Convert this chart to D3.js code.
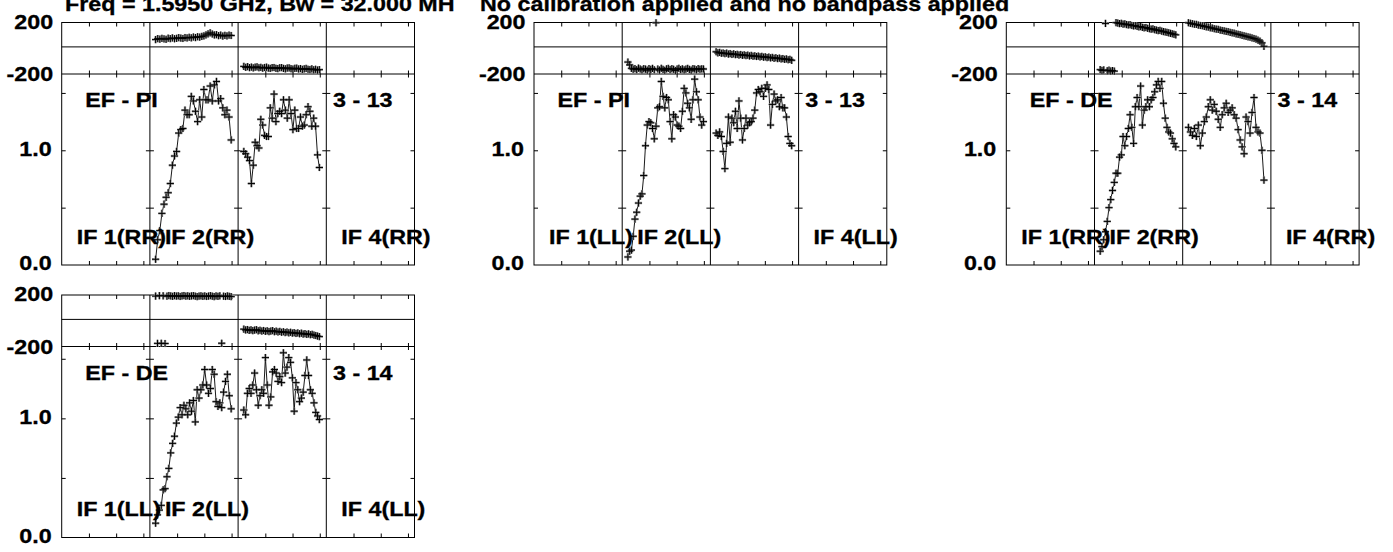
<!DOCTYPE html>
<html><head><meta charset="utf-8">
<script src="https://cdn.jsdelivr.net/npm/d3@7"></script>
<style>
body{margin:0;background:#fff}
text{font-family:"Liberation Sans",Arial,sans-serif;font-weight:bold;font-size:19.5px;fill:#000;stroke:#000;stroke-width:0.3}
</style>
</head><body>
<svg id="c" width="1393" height="552"></svg>
<script>
// ---------- titles / labels ----------
const titleLeft = "Freq = 1.5950 GHz, Bw = 32.000 MH";
const titleRight = "No calibration applied and no bandpass applied";
const baselines = ["EF - PI", "EF - PI", "EF - DE", "EF - DE"];
const sources = ["3 - 13", "3 - 13", "3 - 14", "3 - 14"];
const pols = ["RR", "LL", "RR", "LL"];
const ifNames = ["IF 1", "IF 2", null, "IF 4"];
const phaseTickLabels = ["200", "-200"];
const ampTickLabels = ["1.0", "0.0"];
const ampTicks = [0.5, 1.0, 1.5];
const freqTicks = [10, 20, 30];
const ampMax = [1.665, 1.603];

// ---------- amplitudes (IF 2 and IF 3) ----------
const ampPI_RR_IF2 = [0.05,0.22,0.30,0.45,0.53,0.59,0.63,0.71,0.87,0.95,0.99,1.15,1.18,1.19,1.35,1.31,1.31,1.47,1.43,1.34,1.25,1.44,1.29,1.53,1.44,1.44,1.56,1.43,1.57,1.60,1.43,1.45,1.37,1.31,1.35,1.29,1.09];
const ampPI_RR_IF3 = [0.99,0.97,0.94,0.91,0.71,0.87,1.07,1.04,1.02,1.27,1.22,1.13,1.12,1.12,1.37,1.28,1.49,1.25,1.32,1.34,1.32,1.44,1.35,1.28,1.44,1.32,1.18,1.35,1.19,1.19,1.29,1.21,1.22,1.31,1.38,1.34,1.21,1.28,1.21,0.96,0.85];
const ampPI_LL_IF2 = [0.07,0.12,0.13,0.25,0.40,0.46,0.54,0.60,0.62,0.78,1.04,1.22,1.25,1.24,1.19,1.10,1.21,1.37,1.38,1.60,1.47,1.37,1.46,1.44,1.25,1.10,1.31,1.29,1.22,1.21,1.19,1.34,1.54,1.50,1.41,1.37,1.27,1.44,1.62,1.51,1.44,1.29,1.22,1.25];
const ampPI_LL_IF3 = [1.15,1.13,1.16,1.12,0.99,0.84,1.06,1.29,1.07,1.28,1.24,1.34,1.19,1.43,1.28,1.09,1.19,1.28,1.22,1.24,1.25,1.28,1.35,1.50,1.53,1.51,1.54,1.47,1.54,1.57,1.53,1.22,1.40,1.49,1.43,1.44,1.38,1.46,1.37,1.37,1.29,1.12,1.06,1.04];
const ampDE_RR_IF2 = [0.12,0.16,0.22,0.29,0.38,0.50,0.57,0.65,0.72,0.80,0.80,0.94,0.96,1.12,1.04,1.12,1.19,1.31,1.20,1.06,1.38,1.46,1.38,1.56,1.22,1.35,1.38,1.44,1.38,1.44,1.46,1.51,1.57,1.60,1.54,1.60,1.41,1.28,1.20,1.16,1.15,1.10,1.06,1.03];
const ampDE_RR_IF3 = [1.20,1.16,1.13,1.19,1.12,1.22,1.04,1.15,1.25,1.29,1.38,1.44,1.35,1.40,1.34,1.27,1.20,1.31,1.37,1.41,1.33,1.35,1.37,1.31,1.28,1.18,1.09,1.03,0.97,1.29,1.25,1.15,1.33,1.46,1.20,1.16,1.15,1.00,0.74];
const ampDE_LL_IF2 = [0.12,0.19,0.23,0.27,0.40,0.41,0.51,0.58,0.71,0.79,0.85,0.96,1.01,1.09,1.03,1.11,1.08,1.03,1.13,1.06,1.15,0.97,1.24,1.17,1.24,1.28,1.41,1.28,1.21,1.25,1.41,1.37,1.14,1.10,1.13,1.09,1.22,1.31,1.37,1.19,1.08];
const ampDE_LL_IF3 = [1.07,1.03,1.21,1.25,1.21,1.28,1.38,1.24,1.11,1.19,1.24,1.21,1.51,1.28,1.11,1.18,1.39,1.41,1.38,1.31,1.35,1.30,1.55,1.38,1.43,1.51,1.47,1.34,1.06,1.30,1.24,1.14,1.17,1.22,1.36,1.49,1.36,1.24,1.21,1.13,1.05,1.02,0.99];

// ---------- phases (degrees) ----------
const phPI_RR_IF2 = [54,61,57,63,59,56,64,61,66,60,63,68,65,62,69,66,71,67,73,69,75,72,77,81,88,96,104,95,88,90,83,87,80,85,81,87,84];
const phPI_RR_IF3 = [-144,-151,-146,-153,-149,-155,-150,-147,-154,-151,-157,-152,-150,-156,-159,-153,-152,-158,-160,-154,-153,-159,-162,-156,-155,-161,-164,-158,-157,-163,-160,-166,-162,-159,-165,-167,-162,-169,-165,-171,-168];
const phPI_LL_IF2 = [-112,-133,-158,-165,-160,-168,-157,-163,-170,-161,-164,-172,-160,-166,-159,-169,178,-163,-171,-158,-166,-173,-162,-159,-168,-161,-165,-174,-163,-158,-167,-162,-170,-164,-159,-166,-172,-161,-163,-169,-160,-165,-162,-163];
const phPI_LL_IF3 = [-36,-44,-41,-47,-45,-50,-46,-53,-49,-56,-51,-57,-55,-60,-56,-62,-59,-64,-61,-67,-63,-69,-66,-71,-68,-74,-70,-76,-73,-79,-75,-81,-78,-84,-80,-86,-83,-89,-86,-92,-89,-95,-92,-99];
const phDE_RR_IF2 = [-168,-174,-170,173,-176,-172,-178,-175,-179,179,176,172,174,168,170,165,162,164,158,155,157,151,148,150,144,141,143,137,134,131,133,127,124,120,122,116,113,110,107,104,100,97,93,89];
const phDE_RR_IF3 = [178,174,171,167,166,161,158,156,151,148,146,141,139,134,131,129,124,121,118,114,112,107,104,101,96,93,90,85,82,78,74,71,66,62,57,50,42,30,4];
const phDE_LL_IF2 = [172,-177,175,-176,174,-178,171,176,173,170,175,172,174,169,173,176,171,174,170,173,175,171,168,172,174,170,173,169,172,175,171,168,173,170,174,-176,171,169,173,170,168];
const phDE_LL_IF3 = [-72,-78,-75,-81,-77,-83,-79,-76,-84,-80,-86,-82,-88,-84,-90,-86,-83,-91,-87,-93,-89,-95,-91,-97,-93,-99,-95,-101,-98,-104,-100,-106,-102,-108,-105,-111,-107,-113,-110,-116,-119,-123,-127];

const ampSeries = [[ampPI_RR_IF2, ampPI_RR_IF3],[ampPI_LL_IF2, ampPI_LL_IF3],[ampDE_RR_IF2, ampDE_RR_IF3],[ampDE_LL_IF2, ampDE_LL_IF3]];
const phSeries  = [[phPI_RR_IF2, phPI_RR_IF3],[phPI_LL_IF2, phPI_LL_IF3],[phDE_RR_IF2, phDE_RR_IF3],[phDE_LL_IF2, phDE_LL_IF3]];

// ---------- layout ----------
const svg = d3.select("#c");
const L0 = 61.7, colStep = 472.3, W = 352.8, SW = W / 4;
const rowTop = [22.5, 295];
const PH = 51.5, TH = 242.5;
const SX = 1.195;
const panelGrid = [[0,0],[1,0],[2,0],[0,1]];

function label(x, y, s, anchor) {
  svg.append("text")
    .attr("transform", `translate(${x},${y}) scale(${SX},1)`)
    .attr("text-anchor", anchor || "start")
    .text(s);
}

label(65, 11, titleLeft);
label(480, 11, titleRight);

const gFrames = svg.append("g");
const gData = svg.append("g");

function noDomain(s) { s.select(".domain").remove(); }

panelGrid.forEach(([c, r], p) => {
  const x0 = L0 + c * colStep;
  const T = rowTop[r];
  const yPh = d3.scaleLinear().domain([-200, 180]).range([T + PH, T]);
  const yA = d3.scaleLinear().domain([0, ampMax[r]]).range([T + TH, T + PH]);

  const g = gFrames.append("g").attr("stroke", "#000").attr("fill", "none");
  g.append("rect").attr("x", x0).attr("y", T).attr("width", W).attr("height", TH).attr("stroke-width", 1);
  g.append("line").attr("x1", x0).attr("x2", x0 + W).attr("y1", yPh(0)).attr("y2", yPh(0));
  g.append("line").attr("x1", x0).attr("x2", x0 + W).attr("y1", T + PH).attr("y2", T + PH);
  for (let k = 1; k < 4; k++) {
    g.append("line").attr("x1", x0 + k * SW).attr("x2", x0 + k * SW).attr("y1", T).attr("y2", T + TH);
  }

  for (let k = 0; k < 4; k++) {
    const sl = x0 + k * SW;
    const fx = d3.scaleLinear().domain([0, 32.4]).range([sl, sl + SW]);
    const ax = (a, y) => gFrames.append("g").attr("transform", `translate(0,${y})`).call(a).call(noDomain);
    ax(d3.axisBottom(fx).tickValues(freqTicks).tickSize(4).tickFormat(""), T);
    ax(d3.axisTop(fx).tickValues(freqTicks).tickSize(3.5).tickFormat(""), T + PH);
    ax(d3.axisBottom(fx).tickValues(freqTicks).tickSize(3.5).tickFormat(""), T + PH);
    ax(d3.axisTop(fx).tickValues(freqTicks).tickSize(4).tickFormat(""), T + TH);
    gFrames.append("g").attr("transform", `translate(${sl},0)`)
      .call(d3.axisRight(yA).tickValues(ampTicks).tickSize(4).tickFormat("")).call(noDomain);
    gFrames.append("g").attr("transform", `translate(${sl + SW},0)`)
      .call(d3.axisLeft(yA).tickValues(ampTicks).tickSize(4).tickFormat("")).call(noDomain);

    if (ifNames[k]) label(sl + 15, T + 221, `${ifNames[k]}(${pols[p]})`);
  }

  label(x0 - 8.5, yPh(180) + 6, phaseTickLabels[0], "end");
  label(x0 - 8.5, yPh(-200) + 7, phaseTickLabels[1], "end");
  label(x0 - 10, yA(1.0) + 6, ampTickLabels[0], "end");
  label(x0 - 10, yA(0) + 5, ampTickLabels[1], "end");
  label(x0 + 23.5, T + 84.8, baselines[p]);
  label(x0 + 3 * SW + 6.7, T + 84.8, sources[p]);

  [1, 2].forEach((k, j) => {
    const sl = x0 + k * SW;
    const fx = d3.scaleLinear().domain([0, 32.4]).range([sl, sl + SW]);
    drawSeries(fx, yA, ampSeries[p][j], false);
    drawSeries(fx, yPh, phSeries[p][j], true);
  });
});

function drawSeries(fx, y, vals, wrap) {
  const cs = d3.scaleLinear().domain([0, vals.length - 1]).range([2.1, 29.85]);
  const pts = vals.map((v, i) => [fx(cs(i)), y(v)]);
  const segs = [];
  let cur = [];
  vals.forEach((v, i) => {
    if (i > 0 && wrap && Math.abs(v - vals[i - 1]) > 180) { segs.push(cur); cur = []; }
    cur.push(pts[i]);
  });
  segs.push(cur);
  const line = d3.line();
  segs.filter(s => s.length > 1).forEach(s => {
    gData.append("path").attr("d", line(s)).attr("fill", "none").attr("stroke", "#000").attr("stroke-width", 0.9);
  });
  const plus = d => `M${d[0] - 3.6},${d[1]}h7.2M${d[0]},${d[1] - 3.6}v7.2`;
  gData.append("g").selectAll("path").data(pts).join("path")
    .attr("d", plus).attr("stroke", "#9a9a9a").attr("stroke-width", 2.4).attr("fill", "none");
  gData.append("g").selectAll("path").data(pts).join("path")
    .attr("d", plus).attr("stroke", "#000").attr("stroke-width", 1).attr("fill", "none");
}
</script>
</body></html>
